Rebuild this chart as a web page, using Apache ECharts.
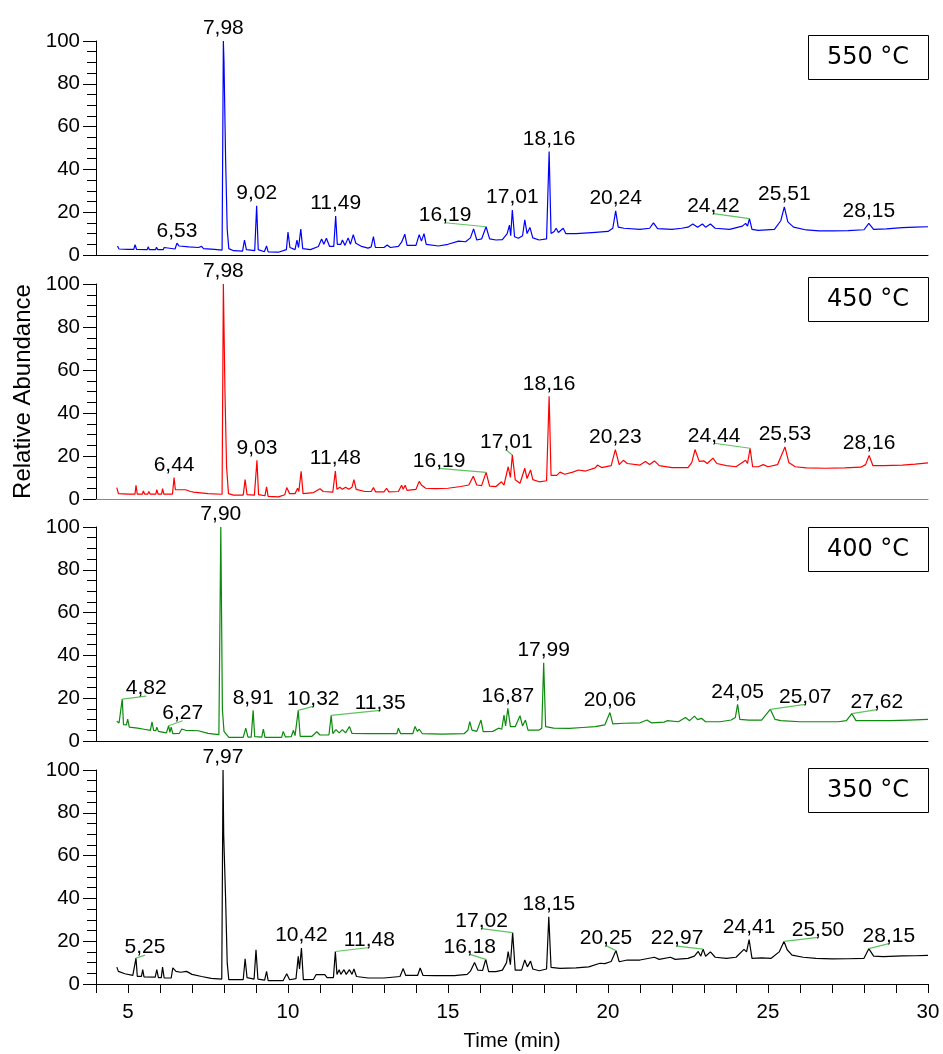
<!DOCTYPE html>
<html>
<head>
<meta charset="utf-8">
<script src="https://cdn.jsdelivr.net/npm/echarts@6/dist/echarts.min.js"></script>
<style>
html,body{margin:0;padding:0;background:#fff;}
#chart{width:943px;height:1054px;}
</style>
</head>
<body>
<div id="chart"></div>
<script>
// ---- data ----
var temps = ['550 °C', '450 °C', '400 °C', '350 °C'];
var xTicks = [5, 10, 15, 20, 25, 30];

var trace550 = [[4.67,4.2],[4.72,2.8],[5.0,2.6],[5.18,2.6],[5.22,4.8],[5.27,2.6],[5.6,2.5],[5.63,3.8],[5.67,2.5],[5.86,2.5],[5.89,3.6],[5.93,2.5],[6.1,2.5],[6.13,3.5],[6.17,2.6],[6.47,2.8],[6.53,5.5],[6.6,4.2],[6.9,3.8],[7.2,3.5],[7.3,4.0],[7.36,3.0],[7.7,2.6],[7.94,2.3],[7.98,100],[8.0,90],[8.05,45],[8.1,12],[8.15,3],[8.3,2],[8.58,1.8],[8.64,7],[8.7,2.5],[8.96,2],[9.02,23],[9.07,2.5],[9.26,1.5],[9.33,4.2],[9.38,1.5],[9.7,1.3],[9.95,2.5],[10.0,10.7],[10.06,3.5],[10.22,2.5],[10.28,7],[10.33,3.5],[10.4,12.1],[10.46,3],[10.7,2.5],[10.95,4],[11.05,7.5],[11.12,5],[11.2,7.8],[11.3,4],[11.43,4],[11.49,18.2],[11.54,5],[11.65,5],[11.7,7],[11.78,4.5],[11.88,8],[11.95,5],[12.04,9.5],[12.12,5.5],[12.3,4],[12.5,3.2],[12.6,3.8],[12.67,8.6],[12.73,3.5],[13.0,3.5],[13.1,4.7],[13.2,3.5],[13.45,4],[13.55,6],[13.65,9.7],[13.72,4.5],[14.0,4.5],[14.1,9.5],[14.17,6.5],[14.25,10],[14.32,5],[14.7,4.2],[15.0,5],[15.33,6.5],[15.55,6.2],[15.7,8],[15.8,12.2],[15.9,7],[16.05,7.5],[16.19,13.2],[16.3,7.5],[16.5,7],[16.7,7.2],[16.85,10],[16.92,14],[16.96,9],[17.01,21],[17.08,8.5],[17.2,7.8],[17.33,9],[17.4,16.4],[17.47,10],[17.56,12.9],[17.65,8],[17.85,7],[18.08,7.5],[18.16,48.3],[18.22,10],[18.32,11],[18.38,12.5],[18.45,10.5],[18.6,12.5],[18.68,10],[19.0,10],[19.5,10.5],[20.0,11],[20.15,12.5],[20.24,20.6],[20.32,13],[20.5,12.5],[21.0,12],[21.3,12.5],[21.42,15],[21.55,12.3],[22.0,12],[22.3,12.5],[22.5,13],[22.65,14.5],[22.8,13],[22.95,14.5],[23.05,13],[23.2,14.5],[23.35,12.5],[23.8,12],[24.2,13.5],[24.3,14.8],[24.36,13.5],[24.42,17],[24.5,12],[24.7,11.5],[25.2,12],[25.4,16],[25.51,22.5],[25.62,15.5],[25.8,13],[26.2,11.7],[26.6,11.3],[27.0,11.3],[27.5,11.4],[28.0,11.8],[28.15,14.8],[28.3,12],[28.7,12.2],[29.2,12.8],[29.6,13],[30.0,13.2]];

var trace450 = [[4.65,5.3],[4.7,2.5],[5.0,2.3],[5.22,2.3],[5.25,6.4],[5.29,2.3],[5.45,2.3],[5.48,3.7],[5.52,2.3],[5.62,2.3],[5.65,3.5],[5.69,2.3],[5.87,2.3],[5.9,4.3],[5.94,2.3],[6.05,2.3],[6.08,4.8],[6.12,2.3],[6.39,2.3],[6.44,10],[6.48,4.3],[6.8,4.3],[6.95,3.5],[7.0,4.2],[7.05,3.2],[7.5,2.5],[7.94,2.2],[7.98,100],[8.03,50],[8.08,15],[8.14,2.5],[8.3,1.8],[8.6,1.8],[8.66,9],[8.72,2],[8.95,1.8],[9.03,18],[9.08,2],[9.28,1.5],[9.33,5.6],[9.38,1.2],[9.7,1],[9.9,2],[9.96,5.3],[10.05,2.5],[10.22,2.5],[10.3,5],[10.34,3.5],[10.41,12.9],[10.47,2.5],[10.8,3],[11.0,4.8],[11.1,3.5],[11.4,3.2],[11.48,13],[11.53,4.5],[11.62,5.5],[11.7,4.5],[11.8,5.5],[11.9,4.5],[12.0,5.5],[12.06,9],[12.13,4.5],[12.4,3.5],[12.6,3.5],[12.67,5.3],[12.74,3.3],[13.0,3.3],[13.08,5],[13.15,3.3],[13.45,3.5],[13.55,6.4],[13.6,4.5],[13.66,6.4],[13.72,4],[14.0,4.5],[14.1,8.2],[14.17,6.5],[14.22,7],[14.3,5],[14.6,4.8],[15.0,5],[15.4,5.8],[15.65,6.5],[15.79,10.6],[15.9,6.5],[16.05,6.2],[16.19,12.4],[16.3,6],[16.5,5.8],[16.67,8],[16.75,6.5],[16.88,15],[16.95,10],[17.01,20.5],[17.1,9],[17.25,7.3],[17.4,14.3],[17.47,9.5],[17.58,13.5],[17.65,9],[17.85,8],[18.08,8.5],[18.16,47.8],[18.22,11],[18.4,11],[18.5,12.5],[18.65,11.5],[18.9,12.5],[19.08,13.5],[19.3,13],[19.6,14.5],[19.67,15.8],[19.8,14.6],[20.1,15.5],[20.23,23],[20.35,16],[20.48,18],[20.6,16.5],[21.0,15.8],[21.17,17.4],[21.3,16],[21.45,17.7],[21.6,15.5],[22.0,14.6],[22.5,14.6],[22.62,17],[22.72,23],[22.85,17.5],[23.0,17.7],[23.1,16.5],[23.28,19],[23.4,16.5],[23.7,15.5],[24.0,15],[24.3,18],[24.36,16.5],[24.44,23.6],[24.52,15],[24.7,15],[24.85,16],[25.0,15],[25.3,16],[25.53,24.2],[25.65,17],[25.85,15],[26.2,14.5],[26.8,14.3],[27.4,14.5],[27.9,14.8],[28.05,16],[28.16,20.2],[28.28,15.5],[28.6,15.5],[29.2,15.8],[29.6,16.2],[30.0,16.8]];

var trace400 = [[4.65,9.2],[4.72,8.4],[4.78,8],[4.82,19.6],[4.86,7.6],[4.95,7.5],[4.99,10.2],[5.04,6.5],[5.3,6],[5.5,5.5],[5.7,5],[5.75,8.9],[5.8,5],[5.87,4.8],[5.9,6.5],[5.95,4.5],[6.2,3.8],[6.27,7.1],[6.31,4],[6.35,6.5],[6.4,3.4],[6.6,3.5],[6.68,5.6],[6.8,5],[7.2,4.8],[7.5,3.6],[7.84,3],[7.9,100],[7.95,14.6],[8.0,4.5],[8.15,1.7],[8.6,1.7],[8.68,6],[8.75,1.8],[8.85,1.8],[8.91,14.3],[8.96,2],[9.18,1.8],[9.23,5.6],[9.28,1.7],[9.8,1.7],[9.85,4.5],[9.92,1.9],[10.1,2],[10.17,5],[10.22,2.5],[10.25,3],[10.32,14.3],[10.38,2.2],[10.75,2.2],[10.9,4.3],[11.0,2.8],[11.28,2.8],[11.35,12],[11.4,3.5],[11.5,5.3],[11.6,3.8],[11.7,5.3],[11.8,3.8],[11.92,6.8],[12.0,3.5],[12.5,3.4],[13.0,3.4],[13.4,3.4],[13.45,6],[13.52,3.4],[13.9,3.4],[13.97,6.8],[14.04,4.5],[14.1,5.5],[14.2,3.4],[14.8,3.2],[15.5,3.4],[15.62,5],[15.68,9],[15.75,5.1],[15.9,4.5],[16.03,9.8],[16.1,4.4],[16.4,4.5],[16.58,6],[16.68,5.5],[16.75,12.1],[16.8,7],[16.87,15.3],[16.95,6.7],[17.1,6.7],[17.25,11.8],[17.33,7],[17.42,9.8],[17.5,5.1],[17.85,5.1],[17.93,6],[17.99,36.6],[18.05,6.7],[18.3,6],[18.8,5.9],[19.2,6.3],[19.6,6.7],[19.9,7.5],[20.06,13.3],[20.15,8],[20.5,8.3],[21.0,8.5],[21.22,9.8],[21.35,8.5],[21.75,8.8],[21.85,9.5],[22.2,9],[22.42,11],[22.55,9.5],[22.7,11.6],[22.8,10],[22.92,10.6],[23.05,9],[23.5,9],[23.85,9.8],[23.98,11],[24.05,17.1],[24.12,10.1],[24.4,9.8],[24.8,9.8],[25.07,14.8],[25.22,10.1],[25.4,9.5],[26.0,9],[26.6,9],[27.2,9],[27.45,9.5],[27.62,12.8],[27.75,9.5],[28.2,9.5],[28.8,9.5],[29.4,9.8],[30.0,10.1]];

var trace350 = [[4.65,7.9],[4.7,5.9],[4.9,4.8],[5.15,4],[5.21,4],[5.25,12.1],[5.29,3.6],[5.42,3.6],[5.46,6.7],[5.5,3.3],[5.85,3.2],[5.9,6.7],[5.95,3],[6.04,3],[6.08,7.9],[6.13,2.8],[6.35,2.8],[6.4,7.5],[6.5,5.9],[6.65,5.5],[6.83,5.9],[7.0,4.5],[7.3,3.5],[7.6,2.6],[7.93,2.3],[7.97,100],[7.99,70],[8.05,40],[8.1,10],[8.15,2],[8.4,2],[8.6,2],[8.66,11.8],[8.72,3],[8.94,2.3],[9.0,16],[9.06,2.3],[9.27,1.8],[9.33,5.9],[9.38,1.6],[9.85,1.6],[9.96,4.8],[10.05,2],[10.25,2.5],[10.32,12.9],[10.36,7],[10.42,16.8],[10.48,2],[10.8,2.2],[10.88,4.4],[11.15,4.4],[11.22,3],[11.42,3],[11.48,15.2],[11.53,4.5],[11.6,6.7],[11.65,4.5],[11.75,6.7],[11.82,4.5],[11.92,6.7],[12.0,4.5],[12.06,7],[12.14,3.5],[12.5,2.8],[13.0,2.8],[13.5,3.5],[13.6,7.2],[13.68,4],[14.05,4],[14.13,7.5],[14.22,4],[14.6,3.9],[15.2,3.9],[15.6,4.5],[15.7,6],[15.83,10],[15.93,6.5],[16.08,6.3],[16.18,11.5],[16.27,5.8],[16.5,5.8],[16.7,6.5],[16.83,10],[16.88,15.1],[16.95,9],[17.02,24],[17.1,6.5],[17.3,6.5],[17.4,11.2],[17.48,8],[17.58,10.7],[17.65,7],[17.85,6.2],[18.08,7],[18.15,31.4],[18.22,7.8],[18.5,7.3],[19.0,7.5],[19.4,8],[19.75,9.7],[19.9,9.5],[20.1,10.5],[20.25,15.6],[20.35,10.4],[20.6,11.2],[21.0,11.2],[21.45,12.5],[21.6,11.5],[21.95,12.5],[22.1,11.5],[22.5,12],[22.7,13],[22.82,15.2],[22.9,13],[22.97,16.3],[23.05,13],[23.2,15],[23.35,12.5],[23.7,12],[24.0,12.5],[24.25,16.2],[24.33,15],[24.41,20.7],[24.5,12],[24.8,12.2],[25.1,12],[25.35,15],[25.5,19.9],[25.6,16],[25.75,13.5],[26.1,12.5],[26.5,12],[27.0,11.7],[27.5,11.8],[28.0,12],[28.15,16.5],[28.3,13],[28.6,12.8],[29.2,13.1],[29.6,13.2],[30.0,13.4]];

// labelled peaks: [retention time, abundance]
var peaks550 = [[6.53,5.5],[7.98,100],[9.02,23],[11.49,18.2],[16.19,13.2],[17.01,21],[18.16,48.3],[20.24,20.6],[24.42,17],[25.51,22.5],[28.15,14.8]];
var peaks450 = [[6.44,10],[7.98,100],[9.03,18],[11.48,13],[16.19,12.4],[17.01,20.5],[18.16,47.8],[20.23,23],[24.44,23.6],[25.53,24.2],[28.16,20.2]];
var peaks400 = [[4.82,19.6],[6.27,7.1],[7.90,100],[8.91,14.3],[10.32,14.3],[11.35,12],[16.87,15.3],[17.99,36.6],[20.06,13.3],[24.05,17.1],[25.07,14.8],[27.62,12.8]];
var peaks350 = [[5.25,12.1],[7.97,100],[10.42,16.8],[11.48,15.2],[16.18,11.5],[17.02,24],[18.15,31.4],[20.25,15.6],[22.97,16.3],[24.41,20.7],[25.50,19.9],[28.15,16.5]];

// ---- layout (label leader offsets in px, null = label directly above) ----
var off550 = [null,null,null,null,[-41,-4],null,null,null,[-36,-5],null,null];
var off450 = [null,null,null,null,[-47,-4],[-6,-5],null,null,[-36,-5],null,null];
var off400 = [[24,-3],[14,-5],null,null,[15,-4],[49,-5],null,null,null,null,[35,-5],[25,-4]];
var off350 = [[9,-3],null,null,[34,-4],[-16,-5],[-31,-4],null,[-10,-5],[-26,-3],null,[34,-4],[20,-5]];

var traces = [trace550, trace450, trace400, trace350];
var peaks = [peaks550, peaks450, peaks400, peaks350];
var offs = [off550, off450, off400, off350];
var colors = ['#0000ff', '#ff0000', '#0b8a0b', '#000000'];
var gridTops = [41, 284, 527, 770];
var gridHeights = [214, 215, 214, 214];
var boxTops = [35, 277, 527, 768];
var xAxisLineColors = ['#000', '#888', '#000', '#000'];

var FONT = '"Liberation Sans", Arial, sans-serif';

var grids = [], xAxes = [], yAxes = [], series = [], graphics = [];
for (var i = 0; i < 4; i++) {
  grids.push({left: 96, right: 15, top: gridTops[i], height: gridHeights[i], containLabel: false});
  var last = (i === 3);
  xAxes.push({
    type: 'value', gridIndex: i, min: 4, max: 30, interval: 1,
    axisLine: {show: true, onZero: false, lineStyle: {color: xAxisLineColors[i], width: 1}},
    axisTick: {show: last, length: 9, inside: false, lineStyle: {color: '#000'}},
    axisLabel: {show: last, interval: 0, margin: 18, fontSize: 20.5, color: '#000', fontFamily: FONT,
      formatter: function (v) { return xTicks.indexOf(v) >= 0 ? String(v) : ''; }},
    splitLine: {show: false},
    name: last ? 'Time (min)' : '', nameLocation: 'middle', nameGap: 47,
    nameTextStyle: {fontSize: 20.5, color: '#000', fontFamily: FONT}
  });
  yAxes.push({
    type: 'value', gridIndex: i, min: 0, max: 100, interval: 20,
    axisLine: {show: true, lineStyle: {color: '#000', width: 1}},
    axisTick: {show: true, length: 13, lineStyle: {color: '#000'}},
    minorTick: {show: true, splitNumber: 4, length: 9, lineStyle: {color: '#000'}},
    axisLabel: {margin: 16, fontSize: 20.5, color: '#000', fontFamily: FONT},
    splitLine: {show: false}, minorSplitLine: {show: false},
    name: i === 1 ? 'Relative Abundance' : '', nameLocation: 'middle', nameGap: 60,
    nameTextStyle: {fontSize: 24, color: '#000', fontFamily: FONT}
  });
  series.push({
    type: 'line', xAxisIndex: i, yAxisIndex: i, data: traces[i],
    showSymbol: false, symbol: 'none', smooth: false,
    lineStyle: {color: colors[i], width: 1.2}, silent: true, animation: false, z: 2
  });
  (function (offsets) {
    series.push({
      type: 'custom', xAxisIndex: i, yAxisIndex: i, data: peaks[i],
      coordinateSystem: 'cartesian2d', clip: false, silent: true, animation: false, z: 5,
      encode: {x: 0, y: 1},
      renderItem: function (params, api) {
        var t = api.value(0), v = api.value(1);
        var p = api.coord([t, v]);
        var txt = t.toFixed(2).replace('.', ',');
        var off = offsets[params.dataIndex];
        var children = [];
        var tx, ty;
        if (off) {
          var ex = p[0] + off[0], ey = p[1] + off[1];
          children.push({type: 'line', shape: {x1: p[0], y1: p[1], x2: ex, y2: ey},
            style: {stroke: '#5ec45e', lineWidth: 1.2}});
          tx = ex; ty = ey + 3;
        } else {
          tx = p[0]; ty = p[1] - 2;
        }
        children.push({type: 'text', x: tx, y: ty,
          style: {text: txt, fill: '#000', font: '21px ' + FONT,
            align: 'center', verticalAlign: 'bottom', textAlign: 'center', textVerticalAlign: 'bottom'}});
        return {type: 'group', children: children};
      }
    });
  })(offs[i]);
  graphics.push({
    type: 'rect', shape: {x: 808.5, y: boxTops[i] + 0.5, width: 120, height: 44},
    style: {fill: '#fff', stroke: '#000', lineWidth: 1}, z: 10
  });
  graphics.push({
    type: 'text', x: 868, y: boxTops[i] + 23,
    style: {text: temps[i], fill: '#000', font: '24px "DejaVu Sans", Verdana, sans-serif',
      align: 'center', verticalAlign: 'middle', textAlign: 'center', textVerticalAlign: 'middle'}, z: 11
  });
}

var chart = echarts.init(document.getElementById('chart'), null, {renderer: 'canvas'});
chart.setOption({
  animation: false,
  backgroundColor: '#fff',
  textStyle: {fontFamily: FONT},
  grid: grids, xAxis: xAxes, yAxis: yAxes, series: series, graphic: graphics
});
</script>
</body>
</html>
